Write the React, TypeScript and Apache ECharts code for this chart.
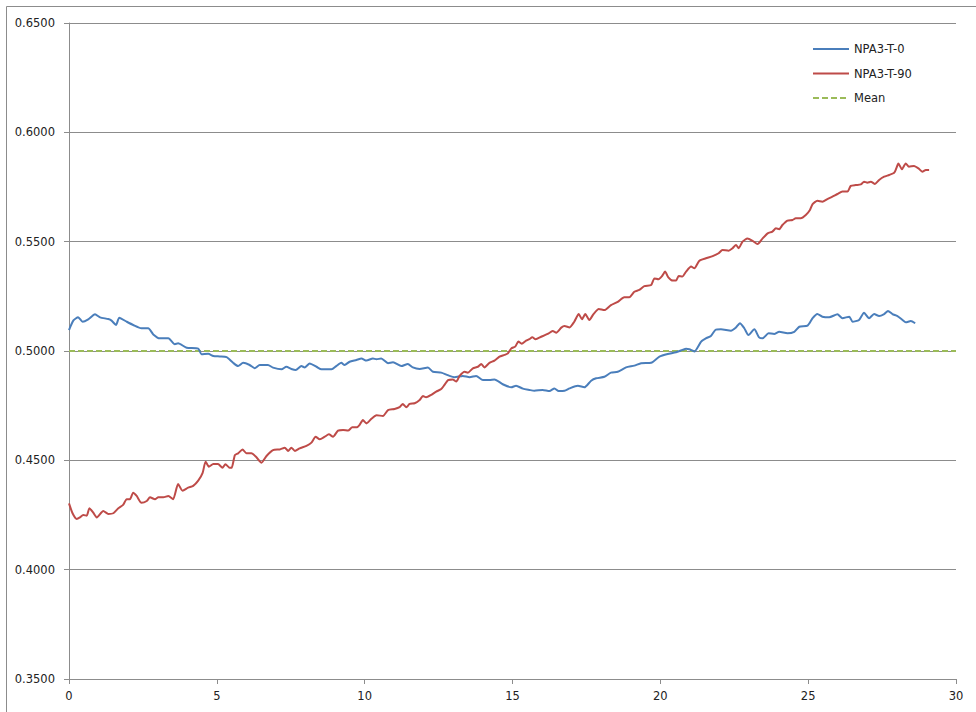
import React, { useEffect, useRef } from "react";
import * as echarts from "echarts";

const t0X = [0.00,0.15,0.31,0.46,0.65,0.88,1.05,1.33,1.44,1.59,1.70,1.95,2.17,2.45,2.68,2.85,3.07,3.36,3.58,3.69,3.98,4.37,4.48,4.71,4.88,5.10,5.33,5.55,5.72,5.89,6.11,6.28,6.45,6.73,6.90,7.19,7.35,7.52,7.67,7.86,7.97,8.14,8.37,8.54,8.88,9.04,9.21,9.32,9.49,9.72,9.89,10.06,10.28,10.40,10.56,10.79,10.96,11.24,11.46,11.63,11.86,12.14,12.31,12.59,12.87,13.04,13.32,13.55,13.77,14.00,14.22,14.39,14.67,14.96,15.12,15.35,15.57,15.74,16.02,16.25,16.42,16.56,16.76,16.93,17.21,17.43,17.66,17.83,18.11,18.33,18.56,18.84,19.12,19.35,19.69,19.97,20.25,20.53,20.75,20.87,20.98,21.15,21.38,21.54,21.71,21.86,22.05,22.39,22.56,22.69,22.84,22.98,23.18,23.34,23.46,23.66,23.85,24.02,24.30,24.53,24.70,24.98,25.15,25.31,25.48,25.71,25.99,26.16,26.39,26.50,26.72,26.89,27.06,27.23,27.40,27.57,27.70,27.85,28.02,28.19,28.30,28.47,28.62];
const t0Y = [0.5096,0.5140,0.5154,0.5134,0.5145,0.5168,0.5154,0.5146,0.5139,0.5119,0.5152,0.5134,0.5119,0.5104,0.5104,0.5076,0.5058,0.5058,0.5031,0.5035,0.5015,0.5011,0.4985,0.4987,0.4977,0.4975,0.4972,0.4946,0.4931,0.4946,0.4936,0.4921,0.4936,0.4936,0.4924,0.4916,0.4928,0.4918,0.4913,0.4931,0.4925,0.4943,0.4928,0.4916,0.4916,0.4931,0.4946,0.4936,0.4951,0.4959,0.4966,0.4956,0.4966,0.4962,0.4966,0.4944,0.4948,0.4931,0.4941,0.4925,0.4918,0.4924,0.4905,0.4901,0.4886,0.4880,0.4886,0.4880,0.4886,0.4867,0.4867,0.4870,0.4848,0.4834,0.4841,0.4828,0.4822,0.4818,0.4822,0.4817,0.4829,0.4817,0.4818,0.4829,0.4841,0.4834,0.4864,0.4875,0.4882,0.4901,0.4905,0.4925,0.4933,0.4944,0.4946,0.4974,0.4986,0.4994,0.5005,0.5010,0.5008,0.4998,0.5043,0.5058,0.5069,0.5096,0.5099,0.5093,0.5108,0.5127,0.5104,0.5073,0.5099,0.5062,0.5058,0.5081,0.5078,0.5088,0.5081,0.5088,0.5111,0.5116,0.5150,0.5169,0.5157,0.5154,0.5168,0.5150,0.5157,0.5134,0.5142,0.5175,0.5150,0.5169,0.5160,0.5169,0.5183,0.5169,0.5160,0.5142,0.5131,0.5137,0.5127];

const t90X = [0.00,0.12,0.26,0.37,0.48,0.60,0.69,0.82,0.94,1.16,1.33,1.50,1.67,1.83,1.95,2.06,2.17,2.29,2.45,2.63,2.74,2.91,3.02,3.19,3.36,3.52,3.69,3.84,4.03,4.20,4.37,4.52,4.62,4.73,4.88,5.04,5.19,5.29,5.42,5.50,5.61,5.72,5.87,6.00,6.17,6.34,6.51,6.68,6.90,7.13,7.30,7.41,7.52,7.64,7.80,8.03,8.20,8.34,8.48,8.65,8.79,8.93,9.10,9.27,9.44,9.58,9.74,9.83,9.94,10.06,10.23,10.40,10.62,10.79,11.01,11.18,11.29,11.41,11.52,11.69,11.86,11.97,12.08,12.25,12.42,12.59,12.70,12.82,12.98,13.10,13.21,13.38,13.49,13.66,13.83,13.94,14.05,14.22,14.39,14.56,14.73,14.84,14.96,15.09,15.20,15.31,15.46,15.57,15.67,15.78,15.97,16.19,16.36,16.48,16.65,16.76,16.93,17.09,17.24,17.35,17.46,17.60,17.74,17.92,18.11,18.33,18.56,18.78,18.95,19.12,19.29,19.46,19.69,19.80,19.94,20.06,20.16,20.27,20.42,20.53,20.62,20.75,20.87,21.04,21.15,21.32,21.54,21.77,21.97,22.10,22.31,22.44,22.56,22.65,22.78,22.95,23.12,23.29,23.46,23.63,23.79,23.91,24.02,24.13,24.30,24.47,24.58,24.75,24.92,25.06,25.15,25.31,25.48,25.65,25.82,25.99,26.16,26.33,26.44,26.61,26.78,26.89,27.00,27.12,27.26,27.40,27.57,27.74,27.91,27.98,28.05,28.17,28.30,28.41,28.58,28.73,28.86,28.98,29.09];
const t90Y = [0.4303,0.4258,0.4232,0.4239,0.4250,0.4247,0.4281,0.4261,0.4239,0.4268,0.4255,0.4258,0.4281,0.4296,0.4322,0.4322,0.4352,0.4337,0.4306,0.4314,0.4331,0.4322,0.4331,0.4331,0.4337,0.4322,0.4392,0.4361,0.4375,0.4383,0.4407,0.4443,0.4494,0.4471,0.4483,0.4483,0.4466,0.4482,0.4467,0.4466,0.4524,0.4532,0.4550,0.4532,0.4532,0.4514,0.4489,0.4520,0.4547,0.4550,0.4558,0.4543,0.4558,0.4543,0.4555,0.4566,0.4581,0.4608,0.4596,0.4608,0.4619,0.4608,0.4636,0.4639,0.4636,0.4651,0.4651,0.4662,0.4684,0.4669,0.4690,0.4706,0.4703,0.4730,0.4735,0.4743,0.4758,0.4743,0.4758,0.4761,0.4776,0.4794,0.4788,0.4799,0.4814,0.4826,0.4845,0.4867,0.4870,0.4860,0.4886,0.4905,0.4901,0.4921,0.4928,0.4941,0.4925,0.4946,0.4956,0.4974,0.4982,0.4989,0.5012,0.5020,0.5043,0.5033,0.5047,0.5054,0.5063,0.5054,0.5065,0.5078,0.5091,0.5084,0.5107,0.5114,0.5108,0.5134,0.5169,0.5145,0.5169,0.5142,0.5169,0.5192,0.5187,0.5210,0.5225,0.5246,0.5246,0.5271,0.5279,0.5297,0.5302,0.5332,0.5328,0.5343,0.5363,0.5337,0.5322,0.5322,0.5343,0.5341,0.5363,0.5386,0.5378,0.5413,0.5424,0.5434,0.5447,0.5462,0.5459,0.5470,0.5485,0.5470,0.5500,0.5515,0.5504,0.5489,0.5515,0.5538,0.5546,0.5561,0.5557,0.5576,0.5596,0.5599,0.5607,0.5607,0.5622,0.5645,0.5672,0.5687,0.5683,0.5695,0.5706,0.5718,0.5729,0.5729,0.5755,0.5759,0.5762,0.5774,0.5770,0.5774,0.5764,0.5782,0.5797,0.5805,0.5815,0.5835,0.5858,0.5831,0.5858,0.5843,0.5846,0.5835,0.5820,0.5828,0.5828];

const meanX = [0, 30];
const meanY = [0.5, 0.5];

const seriesNames = ["NPA3-T-0", "NPA3-T-90", "Mean"];

const zip = (xs: number[], ys: number[]) => xs.map((x, i) => [x, ys[i]]);

export default function App() {
  const ref = useRef<HTMLDivElement>(null);
  useEffect(() => {
    if (!ref.current) return;
    const chart = echarts.init(ref.current, undefined, { renderer: "svg" });
    const font = "DejaVu Sans";
    chart.setOption({
      animation: false,
      backgroundColor: "#ffffff",
      graphic: [
        {
          type: "rect",
          shape: { x: 6.5, y: 6.5, width: 1000, height: 1000 },
          style: { fill: "none", stroke: "#8c8c8c", lineWidth: 1 },
          silent: true,
        },
      ],
      grid: { left: 69, top: 23, right: 20, bottom: 33, containLabel: false },
      legend: {
        orient: "vertical",
        left: 812,
        top: 43,
        padding: 0,
        itemWidth: 36,
        itemHeight: 14,
        itemGap: 12.5,
        itemStyle: { opacity: 0 },
        textStyle: { fontFamily: font, fontSize: 11.5, color: "#222" },
        data: seriesNames,
      },
      xAxis: {
        type: "value",
        min: 0,
        max: 30,
        interval: 5,
        axisLine: { show: true, lineStyle: { color: "#8c8c8c", width: 1 } },
        axisTick: { show: true, length: 5, lineStyle: { color: "#8c8c8c" } },
        axisLabel: { fontFamily: font, fontSize: 11.5, color: "#222", margin: 11 },
        splitLine: { show: false },
      },
      yAxis: {
        type: "value",
        min: 0.35,
        max: 0.65,
        interval: 0.05,
        axisLine: { show: true, lineStyle: { color: "#8c8c8c", width: 1 } },
        axisTick: { show: true, inside: false, length: 5, lineStyle: { color: "#8c8c8c" } },
        axisLabel: {
          fontFamily: font,
          fontSize: 11.5,
          color: "#222",
          margin: 14,
          formatter: (v: number) => v.toFixed(4),
        },
        splitLine: { show: true, lineStyle: { color: "#8c8c8c", width: 1 } },
      },
      series: [
        {
          name: seriesNames[0],
          type: "line",
          data: zip(t0X, t0Y),
          symbol: "none",
          smooth: 0.2,
          lineStyle: { color: "#4a7ebb", width: 2 },
          itemStyle: { color: "#4a7ebb" },
          z: 3,
        },
        {
          name: seriesNames[1],
          type: "line",
          data: zip(t90X, t90Y),
          symbol: "none",
          smooth: 0.2,
          lineStyle: { color: "#be4b48", width: 2 },
          itemStyle: { color: "#be4b48" },
          z: 3,
        },
        {
          name: seriesNames[2],
          type: "line",
          data: zip(meanX, meanY),
          symbol: "none",
          lineStyle: { color: "#9bbb59", width: 2, type: [6, 3] },
          itemStyle: { color: "#9bbb59" },
          z: 2,
        },
      ],
    });
    return () => chart.dispose();
  }, []);
  return (
    <div
      ref={ref}
      style={{ position: "fixed", left: 0, top: 0, width: 976, height: 712 }}
    />
  );
}
